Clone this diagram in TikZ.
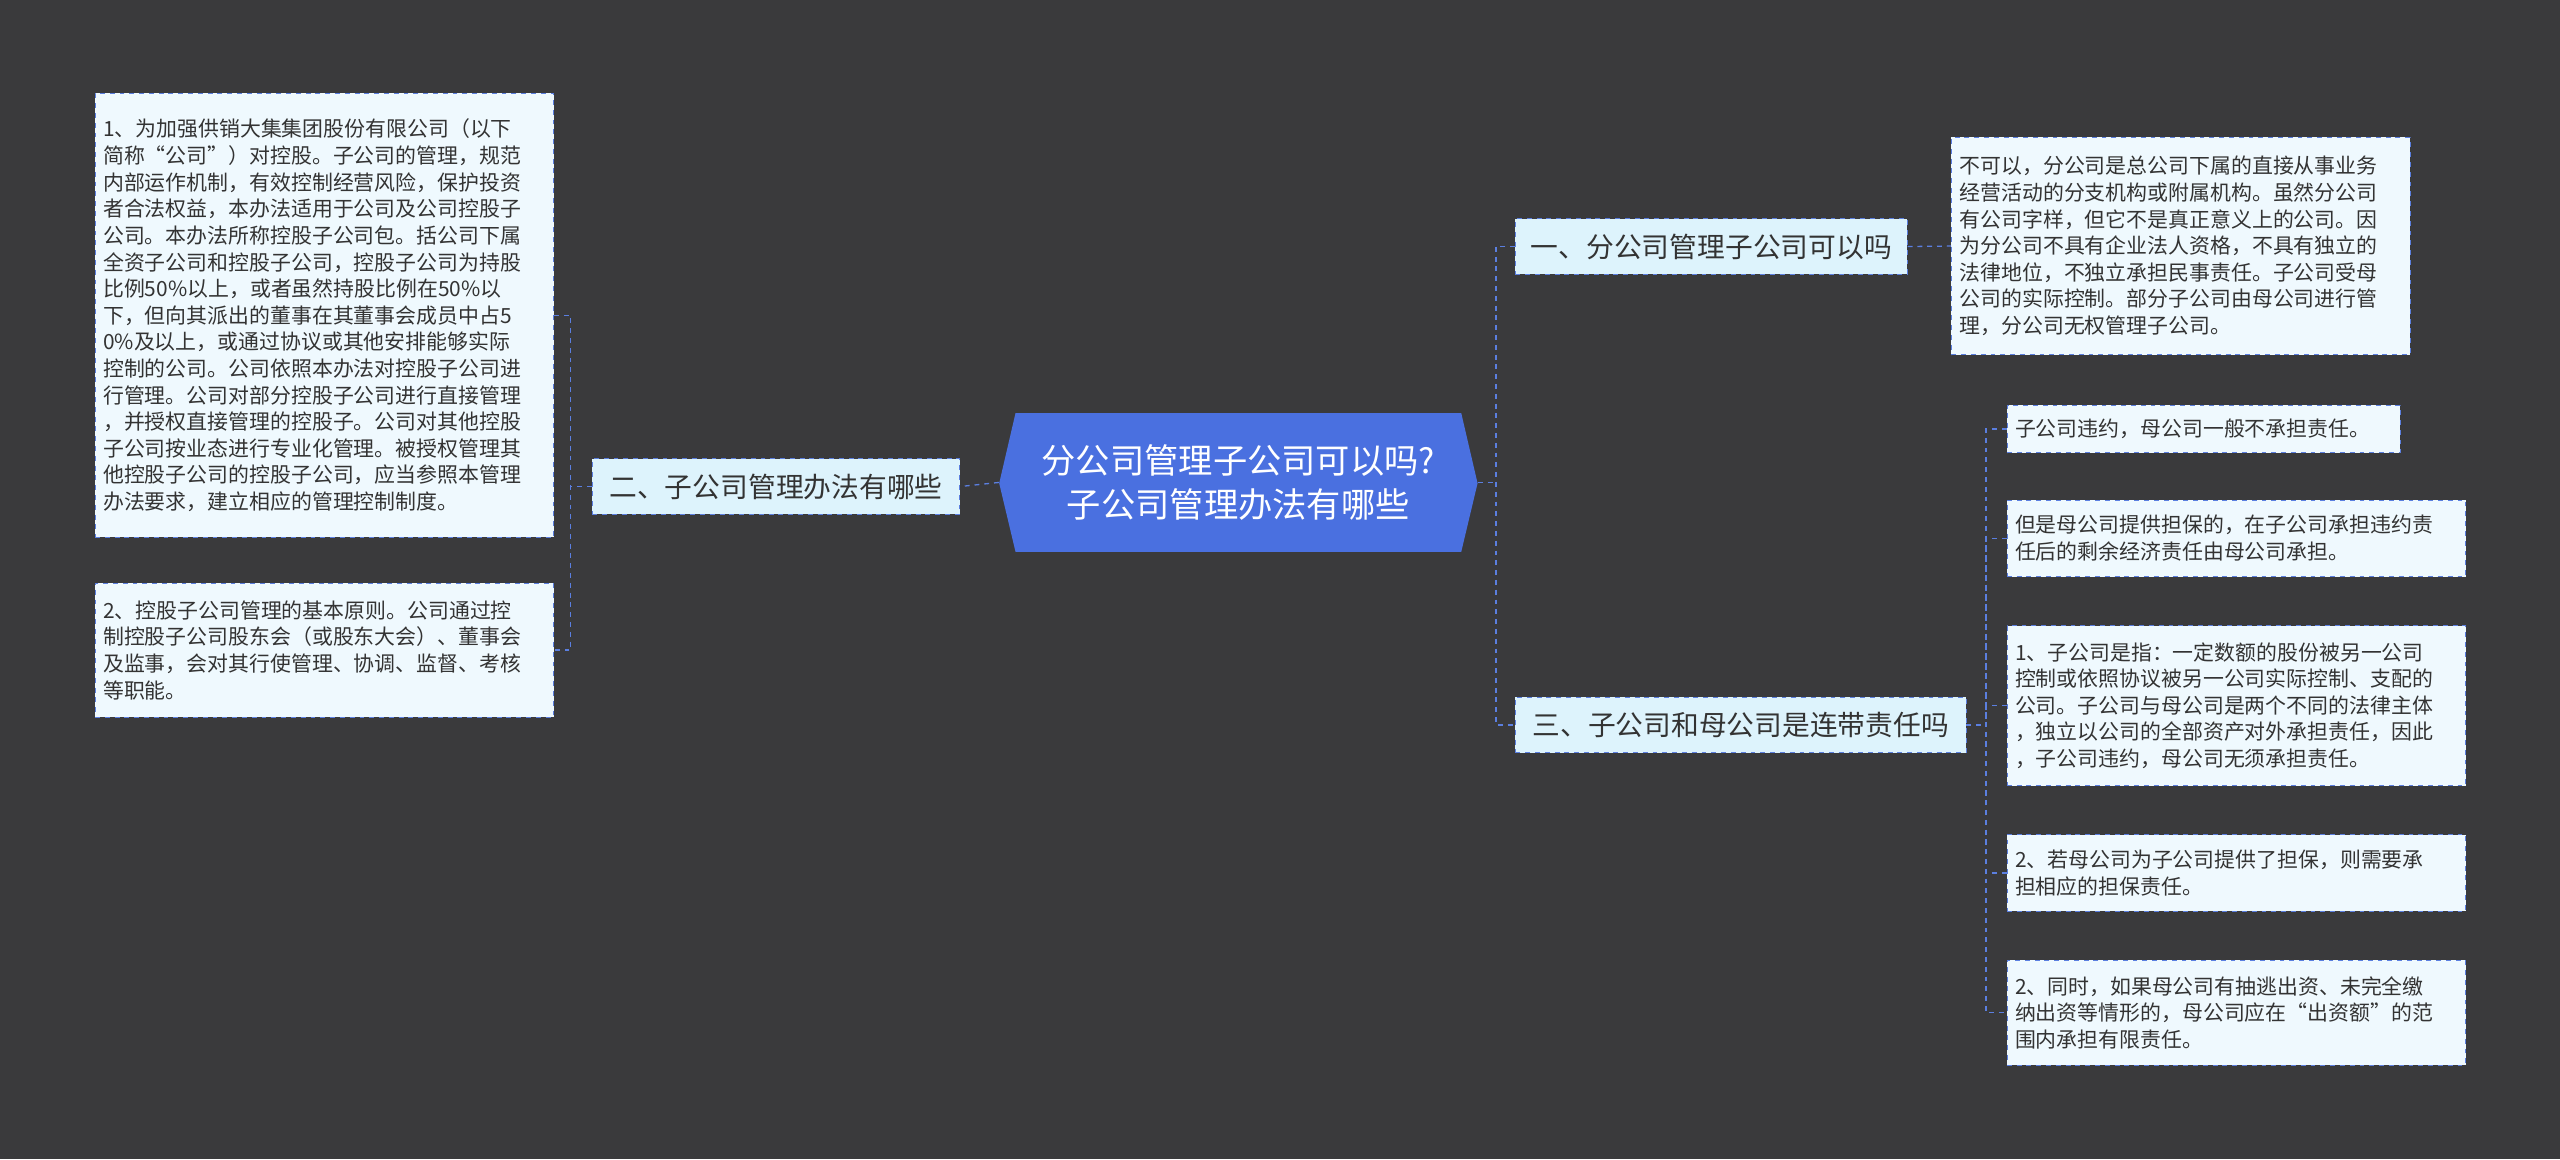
\documentclass[tikz,border=0pt]{standalone}
\usepackage{fontspec}
\setmainfont{Noto Sans CJK SC}
\definecolor{bg}{HTML}{3A3A3C}
\definecolor{ln}{HTML}{5B7FE0}
\definecolor{cfill}{HTML}{4A70E0}
\definecolor{bfill}{HTML}{DDF3FC}
\definecolor{lfill}{HTML}{EFF9FE}
\definecolor{tx}{HTML}{333333}
\tikzset{
 leaf/.style={draw=ln,dashed,fill=lfill,text=tx,align=left,inner sep=5pt,font=\fontsize{12.8}{16.3}\selectfont,anchor=west,minimum height=#1},
 branch/.style={draw=ln,dashed,fill=bfill,text=tx,font=\fontsize{17}{20}\selectfont,inner sep=6pt,minimum height=34pt},
 conn/.style={draw=ln,dashed,line width=0.8pt}
}
\begin{document}
\begin{tikzpicture}[x=1pt,y=-1pt]
\fill[bg] (0,0) rectangle (1568,710);
\useasboundingbox (0,0) rectangle (1568,710);
\fill[cfill] (612,296) -- (622,253) -- (895,253) -- (905,296) -- (895,338) -- (622,338) -- cycle;
\node[minimum width=293pt,minimum height=85pt,text=white,align=center,font=\fontsize{21}{27}\selectfont] (c) at (758.5,295.5) {分公司管理子公司可以吗?\\子公司管理办法有哪些};
% left
\node[branch,anchor=east,minimum width=225pt] (b2) at (588,298) {二、子公司管理办法有哪些};
\node[leaf=272pt,anchor=north west,minimum width=281pt,text width=271pt] (l1) at (58,57) {1、为加强供销大集集团股份有限公司（以下\\简称“公司”）对控股。子公司的管理，规范\\内部运作机制，有效控制经营风险，保护投资\\者合法权益，本办法适用于公司及公司控股子\\公司。本办法所称控股子公司包。括公司下属\\全资子公司和控股子公司，控股子公司为持股\\比例50\%以上，或者虽然持股比例在50\%以\\下，但向其派出的董事在其董事会成员中占5\\0\%及以上，或通过协议或其他安排能够实际\\控制的公司。公司依照本办法对控股子公司进\\行管理。公司对部分控股子公司进行直接管理\\，并授权直接管理的控股子。公司对其他控股\\子公司按业态进行专业化管理。被授权管理其\\他控股子公司的控股子公司，应当参照本管理\\办法要求，建立相应的管理控制制度。};
\node[leaf=82pt,anchor=north west,minimum width=281pt,text width=271pt] (l2) at (58,357) {2、控股子公司管理的基本原则。公司通过控\\制控股子公司股东会（或股东大会）、董事会\\及监事，会对其行使管理、协调、监督、考核\\等职能。};
% right
\node[branch,anchor=west,minimum width=240pt] (b1) at (928,151) {一、分公司管理子公司可以吗};
\node[branch,anchor=west,minimum width=276pt] (b3) at (928,444) {三、子公司和母公司是连带责任吗};
\node[leaf=133pt,anchor=north west,minimum width=281pt,text width=271pt] (r1) at (1195,84) {不可以，分公司是总公司下属的直接从事业务\\经营活动的分支机构或附属机构。虽然分公司\\有公司字样，但它不是真正意义上的公司。因\\为分公司不具有企业法人资格，不具有独立的\\法律地位，不独立承担民事责任。子公司受母\\公司的实际控制。部分子公司由母公司进行管\\理，分公司无权管理子公司。};
\node[leaf=29pt,anchor=north west,minimum width=241pt,text width=231pt] (s1) at (1229,248) {子公司违约，母公司一般不承担责任。};
\node[leaf=47pt,anchor=north west,minimum width=281pt,text width=271pt] (s2) at (1229,306) {但是母公司提供担保的，在子公司承担违约责\\任后的剩余经济责任由母公司承担。};
\node[leaf=98pt,anchor=north west,minimum width=281pt,text width=271pt] (s3) at (1229,383) {1、子公司是指：一定数额的股份被另一公司\\控制或依照协议被另一公司实际控制、支配的\\公司。子公司与母公司是两个不同的法律主体\\，独立以公司的全部资产对外承担责任，因此\\，子公司违约，母公司无须承担责任。};
\node[leaf=47pt,anchor=north west,minimum width=281pt,text width=271pt] (s4) at (1229,511) {2、若母公司为子公司提供了担保，则需要承\\担相应的担保责任。};
\node[leaf=64pt,anchor=north west,minimum width=281pt,text width=271pt] (s5) at (1229,588) {2、同时，如果母公司有抽逃出资、未完全缴\\纳出资等情形的，母公司应在“出资额”的范\\围内承担有限责任。};
% connectors
\draw[conn] (c.west) -- (b2.east);
\draw[conn] (b2.west) -- ++(-13,0) coordinate (lj);
\draw[conn] (l1.east) -| (lj) |- (l2.east);
\draw[conn] (c.east) -- ++(11,0) coordinate (rj);
\draw[conn] (b1.west) -| (rj) |- (b3.west);
\draw[conn] (b1.east) -- (r1.west);
\draw[conn] (b3.east) -- ++(12,0) coordinate (sj);
\draw[conn] (s1.west) -| (sj) |- (s5.west);
\draw[conn] (s2.west) -| (sj);
\draw[conn] (s3.west) -| (sj);
\draw[conn] (s4.west) -| (sj);
\end{tikzpicture}
\end{document}
